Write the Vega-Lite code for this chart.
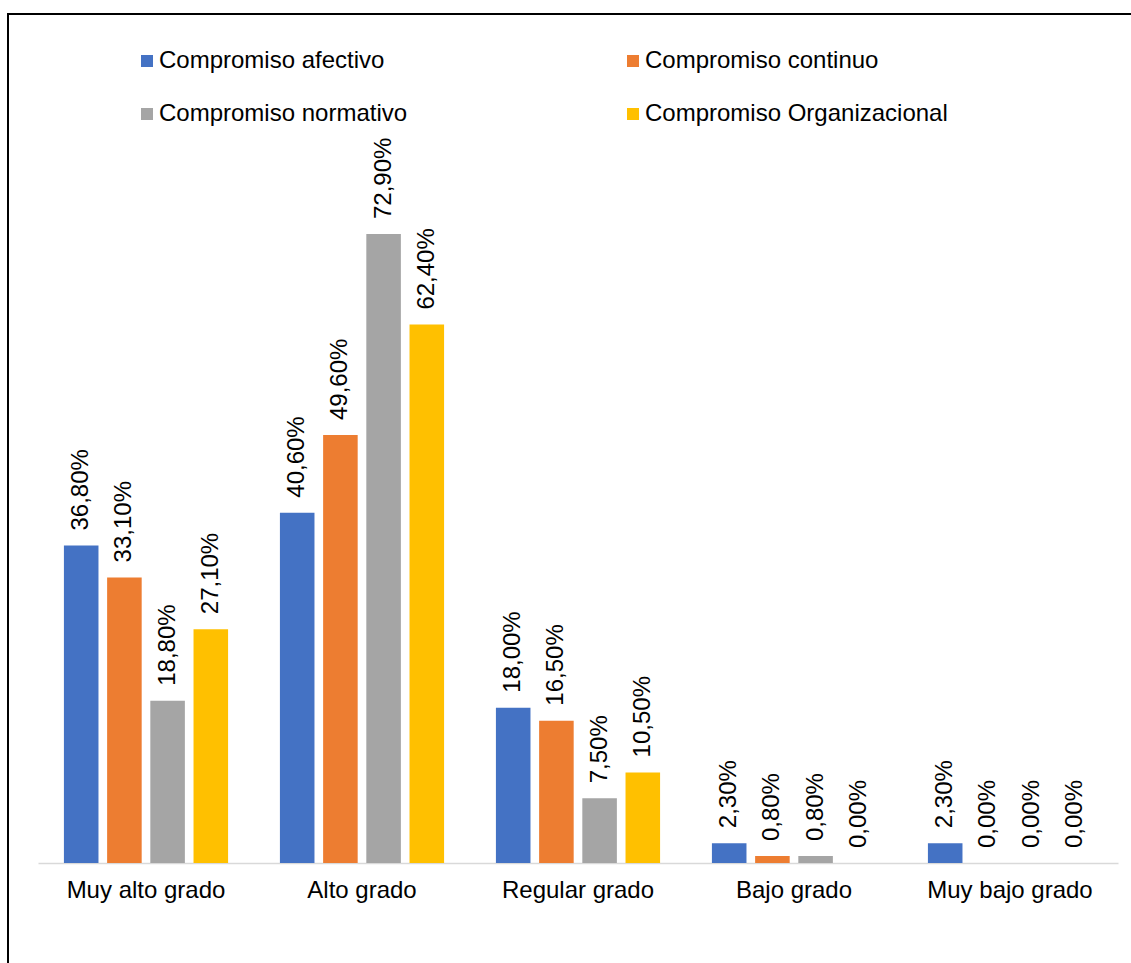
{
  "$schema": "https://vega.github.io/schema/vega-lite/v6.json",
  "autosize": {"type": "none"},
  "width": 1133,
  "height": 959,
  "padding": {"left": 8, "top": 14, "right": -10, "bottom": -10},
  "background": "white",
  "config": {
    "locale": {"number": {"decimal": ",", "thousands": ".", "grouping": [3], "currency": ["", " €"]}},
    "view": {"stroke": "#000000", "strokeWidth": 2},
    "font": "Liberation Sans"
  },
  "data": {
    "values": [
      {"nivel": "Muy alto grado", "serie": "Compromiso afectivo", "valor": 0.368},
      {"nivel": "Muy alto grado", "serie": "Compromiso continuo", "valor": 0.331},
      {"nivel": "Muy alto grado", "serie": "Compromiso normativo", "valor": 0.188},
      {"nivel": "Muy alto grado", "serie": "Compromiso Organizacional", "valor": 0.271},
      {"nivel": "Alto grado", "serie": "Compromiso afectivo", "valor": 0.406},
      {"nivel": "Alto grado", "serie": "Compromiso continuo", "valor": 0.496},
      {"nivel": "Alto grado", "serie": "Compromiso normativo", "valor": 0.729},
      {"nivel": "Alto grado", "serie": "Compromiso Organizacional", "valor": 0.624},
      {"nivel": "Regular grado", "serie": "Compromiso afectivo", "valor": 0.18},
      {"nivel": "Regular grado", "serie": "Compromiso continuo", "valor": 0.165},
      {"nivel": "Regular grado", "serie": "Compromiso normativo", "valor": 0.075},
      {"nivel": "Regular grado", "serie": "Compromiso Organizacional", "valor": 0.105},
      {"nivel": "Bajo grado", "serie": "Compromiso afectivo", "valor": 0.023},
      {"nivel": "Bajo grado", "serie": "Compromiso continuo", "valor": 0.008},
      {"nivel": "Bajo grado", "serie": "Compromiso normativo", "valor": 0.008},
      {"nivel": "Bajo grado", "serie": "Compromiso Organizacional", "valor": 0.0},
      {"nivel": "Muy bajo grado", "serie": "Compromiso afectivo", "valor": 0.023},
      {"nivel": "Muy bajo grado", "serie": "Compromiso continuo", "valor": 0.0},
      {"nivel": "Muy bajo grado", "serie": "Compromiso normativo", "valor": 0.0},
      {"nivel": "Muy bajo grado", "serie": "Compromiso Organizacional", "valor": 0.0}
    ]
  },
  "encoding": {
    "x": {
      "field": "nivel",
      "type": "nominal",
      "sort": ["Muy alto grado", "Alto grado", "Regular grado", "Bajo grado", "Muy bajo grado"],
      "scale": {"range": [30, 1110], "paddingInner": 0.24, "paddingOuter": 0.12},
      "axis": {
        "title": null,
        "orient": "bottom",
        "offset": -110,
        "labelAngle": 0,
        "labelFontSize": 24,
        "labelFont": "Liberation Sans",
        "labelColor": "#000000",
        "labelPadding": 15,
        "ticks": false,
        "domainColor": "#D9D9D9",
        "domainWidth": 1.5,
        "grid": false
      }
    },
    "xOffset": {
      "field": "serie",
      "type": "nominal",
      "sort": ["Compromiso afectivo", "Compromiso continuo", "Compromiso normativo", "Compromiso Organizacional"],
      "scale": {"paddingInner": 0.2, "paddingOuter": 0}
    },
    "y": {
      "field": "valor",
      "type": "quantitative",
      "scale": {"domain": [-0.12749, 0.98401], "nice": false, "zero": false},
      "axis": null
    }
  },
  "layer": [
    {
      "mark": {"type": "bar"},
      "encoding": {
        "color": {
          "field": "serie",
          "type": "nominal",
          "scale": {
            "domain": ["Compromiso afectivo", "Compromiso continuo", "Compromiso normativo", "Compromiso Organizacional"],
            "range": ["#4472C4", "#ED7D31", "#A5A5A5", "#FFC000"]
          },
          "legend": {
            "title": null,
            "orient": "none",
            "legendX": 127,
            "legendY": 35,
            "direction": "horizontal",
            "columns": 2,
            "columnPadding": 213,
            "rowPadding": 29,
            "symbolType": "square",
            "symbolSize": 144,
            "symbolStrokeWidth": 0,
            "labelFontSize": 24,
            "labelFont": "Liberation Sans",
            "labelColor": "#000000",
            "labelOffset": 0,
            "labelLimit": 0,
            "padding": 0
          }
        }
      }
    },
    {
      "mark": {
        "type": "text",
        "angle": 270,
        "align": "left",
        "baseline": "middle",
        "dx": 15,
        "fontSize": 24,
        "font": "Liberation Sans",
        "color": "#000000"
      },
      "encoding": {
        "text": {"field": "valor", "type": "quantitative", "format": ".2%"}
      }
    }
  ]
}
